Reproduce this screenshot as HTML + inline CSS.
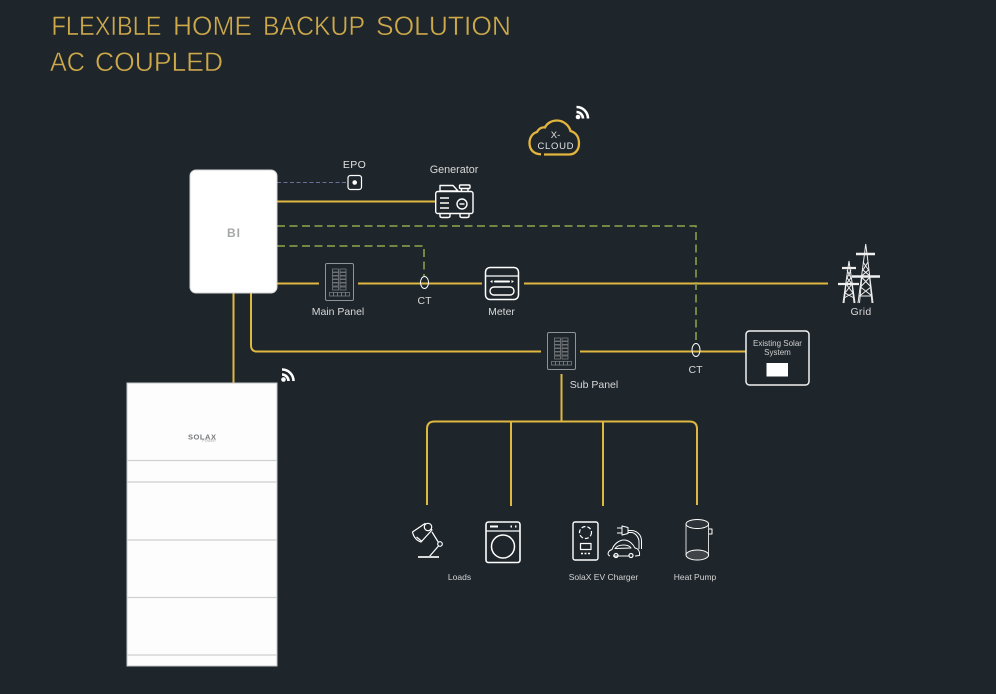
<!DOCTYPE html>
<html lang="en"><head><meta charset="utf-8"><title>Flexible Home Backup Solution</title>
<style>html,body{margin:0;padding:0;background:#1e252b}svg{display:block}
text{font-family:"Liberation Sans",sans-serif}
.t{font-size:27px;fill:#cda94a;stroke:#1e252b;stroke-width:.45px}</style></head><body>
<svg width="996" height="694" viewBox="0 0 996 694" xmlns="http://www.w3.org/2000/svg">
<defs>
<g id="panel">
<rect x="0.5" y="0.5" width="28" height="37" rx="1.5" fill="#1e252b" stroke="#8f9498" stroke-width="1"/>
<g fill="none" stroke="#777c80" stroke-width="0.8">
<rect x="7.500" y="6" width="6" height="3"/><rect x="15" y="6" width="6" height="3"/>
<rect x="7.500" y="9.500" width="6" height="3"/><rect x="15" y="9.500" width="6" height="3"/>
<rect x="7.500" y="13" width="6" height="3"/><rect x="15" y="13" width="6" height="3"/>
<rect x="7.500" y="16.500" width="6" height="3"/><rect x="15" y="16.500" width="6" height="3"/>
<rect x="7.500" y="20" width="6" height="3"/><rect x="15" y="20" width="6" height="3"/>
<rect x="7.500" y="24" width="6" height="3"/><rect x="15" y="24" width="6" height="3"/>
<rect x="4.500" y="29.500" width="4" height="3.500"/><rect x="8.500" y="29.500" width="4" height="3.500"/><rect x="12.500" y="29.500" width="4" height="3.500"/><rect x="16.500" y="29.500" width="4" height="3.500"/><rect x="20.500" y="29.500" width="4" height="3.500"/>
</g></g>
<g id="wifi" fill="none" stroke="#fff" stroke-width="2.600">
<circle cx="2.500" cy="11.500" r="2.300" fill="#fff" stroke="none"/>
<path d="M1 6.500a6.500 6.500 0 0 1 6.500 6.500"/><path d="M1 1.500a11.500 11.500 0 0 1 11.500 11.500"/>
</g>
</defs>
<rect width="996" height="694" fill="#1e252b"/>

<text class="t" x="51.500" y="35" textLength="110" lengthAdjust="spacingAndGlyphs">FLEXIBLE</text>
<text class="t" x="173" y="35" textLength="79" lengthAdjust="spacingAndGlyphs">HOME</text>
<text class="t" x="263" y="35" textLength="102" lengthAdjust="spacingAndGlyphs">BACKUP</text>
<text class="t" x="376" y="35" textLength="135" lengthAdjust="spacingAndGlyphs">SOLUTION</text>
<text class="t" x="50" y="71" textLength="35" lengthAdjust="spacingAndGlyphs">AC</text>
<text class="t" x="95" y="71" textLength="128" lengthAdjust="spacingAndGlyphs">COUPLED</text>

<!-- cloud -->
<path d="M541 154.300C533 154 529.500 149 529.500 143C529.500 137 533 133 537 132C539 128.500 542 127 545 127.500C547 123 552 120.500 557 120.500C563 120.500 569 125 570.500 131C576 132.500 579 137 579 143.500C579 150 575 154.500 569 154.500H544" fill="none" stroke="#e3b53c" stroke-width="2.300"/>
<text x="555.500" y="138" font-size="9.500" fill="#dfe0e0" text-anchor="middle">X-</text>
<text x="555.500" y="149" font-size="9.500" fill="#dfe0e0" text-anchor="middle" textLength="36">CLOUD</text>
<use href="#wifi" x="575.500" y="105.500"/>

<!-- connectors -->
<g fill="none" stroke="#e0b73f" stroke-width="2">
<path d="M277 201.500H436"/>
<path d="M277 283.500H319M358 283.500H482M524 283.500H828"/>
<path d="M233.500 293V383"/>
<path d="M251 293V345.500Q251 351.500 257 351.500H541M580 351.500H746"/>
<path d="M561.500 374V421.500"/>
<path d="M427 505V429Q427 421.500 434.500 421.500H689.500Q697 421.500 697 429V505"/>
<path d="M511 421.500V506M603 421.500V506"/>
</g>
<path d="M277 182.500H347" fill="none" stroke="#6c6f95" stroke-width="1.100" stroke-dasharray="4 2.500"/>
<g fill="none" stroke="#8fa84d" stroke-width="1.500" stroke-dasharray="8 4.500">
<path d="M277 226H696V343"/>
<path d="M277 246H424V276"/>
</g>
<path d="M696 270V297" stroke="#1e252b" stroke-width="0"/>

<!-- BI -->
<rect x="190" y="170" width="87" height="123" rx="6" fill="#fff" stroke="#d6d6d6"/>
<text x="234" y="237" font-size="12" font-weight="bold" fill="#a5a7a9" text-anchor="middle" letter-spacing="1">BI</text>

<!-- EPO -->
<text x="354.500" y="168" font-size="10.500" fill="#e0e0e0" text-anchor="middle" letter-spacing=".4">EPO</text>
<rect x="348" y="175.500" width="13.500" height="14" rx="2.500" fill="#1e252b" stroke="#fff" stroke-width="1.200"/>
<circle cx="354.700" cy="182.500" r="2.300" fill="#fff"/>

<!-- Generator -->
<text x="454" y="173" font-size="10.800" fill="#d8d8d8" text-anchor="middle">Generator</text>
<g fill="#1e252b" stroke="#fff" stroke-width="1.400" stroke-linejoin="round">
<path d="M440 191V185.500H453L458 191Z"/>
<rect x="459.500" y="185" width="10.500" height="3.500" rx="1"/><path d="M461.500 188.500V191.500M468 188.500V191.500"/>
<path d="M440 213V216Q440 217.500 442 217.500H448Q450 217.500 450 216V213M460 213V216Q460 217.500 462 217.500H467Q469 217.500 469 216V213"/>
<rect x="435.700" y="191.500" width="37.300" height="22" rx="2"/>
<path d="M440 198H449M440 203H449M440 208H449"/>
<circle cx="462" cy="204" r="5"/><path d="M459.500 204H464.500"/>
</g>

<!-- main panel -->
<use href="#panel" x="325" y="263"/>
<text x="338" y="315" font-size="10.500" fill="#d8d8d8" text-anchor="middle">Main Panel</text>

<!-- CT 1 -->
<ellipse cx="424.500" cy="282.500" rx="4" ry="6" fill="none" stroke="#fff" stroke-width="1"/>
<text x="424.500" y="304" font-size="10.500" fill="#d8d8d8" text-anchor="middle">CT</text>

<!-- Meter -->
<rect x="485.500" y="267.500" width="33" height="32" rx="4.500" fill="#1e252b" stroke="#fff" stroke-width="1.500"/>
<path d="M486 276H518" stroke="#fff" stroke-width="1.300"/>
<path d="M495 281.500H509" stroke="#fff" stroke-width="2" stroke-linecap="round"/>
<path d="M490 281.500L492.500 280V283ZM514 281.500L511.500 280V283Z" fill="#fff"/>
<rect x="490" y="287" width="24" height="8" rx="4" fill="none" stroke="#fff" stroke-width="1.400"/>
<text x="501.500" y="315" font-size="10.500" fill="#d8d8d8" text-anchor="middle">Meter</text>

<!-- Grid -->
<g fill="none" stroke="#efefef" stroke-width="1">
<path d="M858 303L864.500 254L865.700 244L867 254L873 303"/>
<path d="M862 276L859.500 303M869.500 276L872 303M860.500 276L871 287L859.500 296M871 276L860.500 287L872 296M863 262L868.500 270L861.500 276M868 262L863 270L870 276M859 296H872"/>
<path d="M856 254H875M852 276.500H880" stroke-width="2.400"/>
<path d="M843 303L848 268L849 261L850 268L855 303"/>
<path d="M846 284L844 303M852 284L854 303M846 284L853 293L844 298M852 284L845 293L854 298M847 270L851 278L846 284M851 270L847 278L852 284"/>
<path d="M842 268H856M838 284H859" stroke-width="2.200"/>
</g>
<text x="861" y="315" font-size="10.500" fill="#d8d8d8" text-anchor="middle" letter-spacing=".3">Grid</text>

<!-- sub panel -->
<use href="#panel" x="547" y="332"/>
<text x="594" y="388" font-size="10.500" fill="#d8d8d8" text-anchor="middle">Sub Panel</text>

<!-- CT 2 -->
<ellipse cx="696" cy="350" rx="4" ry="6.500" fill="none" stroke="#fff" stroke-width="1"/>
<text x="695.500" y="373" font-size="10.500" fill="#d8d8d8" text-anchor="middle">CT</text>

<!-- Solar -->
<rect x="746" y="331" width="63" height="54" rx="3.500" fill="#1e252b" stroke="#f2f2f2" stroke-width="1.500"/>
<text x="777.500" y="346" font-size="8" fill="#cfcfcf" text-anchor="middle">Existing Solar</text>
<text x="777.500" y="355" font-size="8" fill="#cfcfcf" text-anchor="middle">System</text>
<rect x="766.500" y="363" width="21.500" height="13.500" fill="#fff"/>

<!-- battery -->
<use href="#wifi" x="281" y="368"/>
<rect x="127" y="383" width="150" height="283" fill="#fdfdfd" stroke="#c4c6c8"/>
<g stroke="#cfd0d0" stroke-width="1.300"><path d="M127 460.500H277M127 482H277M127 540H277M127 597.500H277M127 655H277"/></g>
<text x="188" y="439.500" font-size="7.500" font-weight="bold" fill="#77797b" textLength="28" lengthAdjust="spacing">SOLAX</text>
<text x="209" y="442" font-size="3.500" fill="#a8a8a8" text-anchor="middle">POWER</text>

<!-- Loads icons -->
<g fill="none" stroke="#fff" stroke-width="1.200" stroke-linejoin="round">
<path d="M412.500 532L425 523.500L432 530L421 542C417 541 413.500 537 412.500 532Z"/>
<circle cx="428" cy="527" r="3.700" fill="#1e252b"/>
<path d="M416.500 537L422 541.500"/>
<circle cx="440" cy="544" r="2.300"/>
<path d="M432 532L438.500 542.500M438.500 546L429 557"/>
<path d="M418 557H439" stroke-width="2" stroke="#d8d8d8"/>
<!-- washer -->
<rect x="486" y="522" width="34" height="40.500" rx="2.500" stroke-width="1.600"/>
<path d="M486 531H520" stroke-width="1.300"/>
<circle cx="503" cy="546.500" r="11.500" stroke-width="1.500"/>
<path d="M490 526.500H498" stroke-width="2"/>
<path d="M510.500 526.500H512M515 526.500H516.500" stroke-width="2"/>
<!-- EV charger -->
<rect x="573" y="522" width="25" height="38" rx="2" stroke-width="1.400"/>
<circle cx="585.500" cy="532.500" r="6" stroke-dasharray="4 2"/>
<rect x="580.500" y="543.500" width="10.500" height="6"/>
<path d="M581 553.500H583M584.500 553.500H586.500M588 553.500H590" stroke-width="1.600"/>
<path d="M610 556C607 555 607.500 551 612 549.500C614 544 619 540 624 540C629 540 633 544 635 548C638 548.500 640 551 639.500 555.500L635 556M613 556H629" stroke-width="1"/>
<path d="M615 548.500C618 544 628 544 631 548Z" stroke-width="1"/>
<circle cx="616" cy="555.500" r="2"/><circle cx="631" cy="555.500" r="2"/>
<path d="M617 528H622M617 533H622M622 526V535L628 533.500V527.500ZM628 530.500H631C637 530.500 641.500 535 641.500 541V549M628 532.500H631C635 532.500 639 537 639 542V549" stroke-width="1"/>
<!-- Heat pump -->
<rect x="708.500" y="529" width="3.500" height="5" stroke-width="1"/>
<path d="M686 524V555M708.500 524V555" stroke="#d4d4d4" stroke-width="1"/>
<ellipse cx="697.300" cy="524" rx="11.300" ry="4.500" fill="#2d3338" stroke-width="1"/>
<ellipse cx="697.300" cy="555" rx="11.300" ry="5" fill="#3f4448" stroke-width="1"/>
</g>
<text x="459.500" y="580" font-size="8.500" fill="#d4d4d4" text-anchor="middle">Loads</text>
<text x="603.500" y="580" font-size="8.500" fill="#d4d4d4" text-anchor="middle">SolaX EV Charger</text>
<text x="695" y="580" font-size="8.500" fill="#d4d4d4" text-anchor="middle">Heat Pump</text>
</svg>
</body></html>
